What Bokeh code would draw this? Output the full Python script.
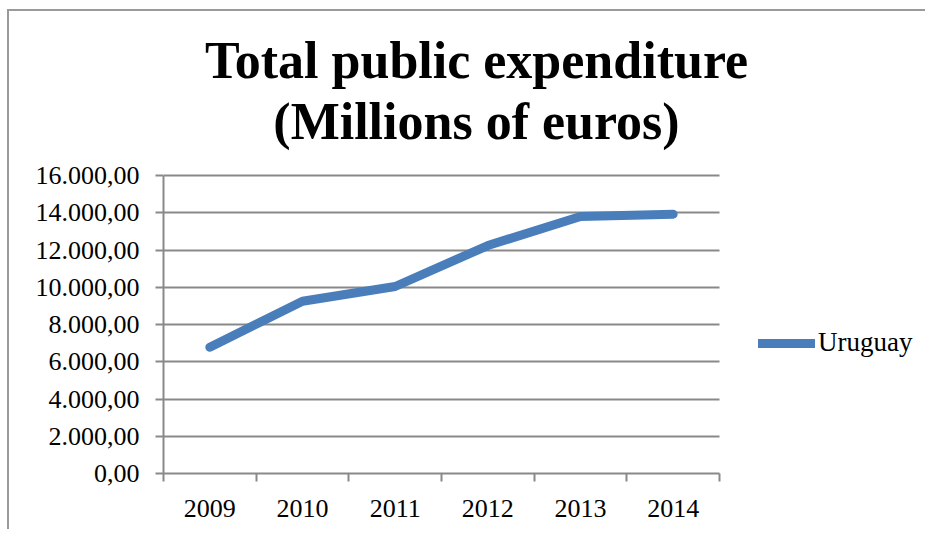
from bokeh.plotting import figure
from bokeh.models import FixedTicker, Label, Legend, LegendItem, Range1d
from bokeh.embed import file_html
from bokeh.resources import INLINE

# ---- data ----
years = [2009, 2010, 2011, 2012, 2013, 2014]
uruguay = [6780, 9250, 10040, 12240, 13800, 13920]
series_name = "Uruguay"
y_ticks = [0, 2000, 4000, 6000, 8000, 10000, 12000, 14000, 16000]
y_tick_labels = ["0,00", "2.000,00", "4.000,00", "6.000,00", "8.000,00",
                 "10.000,00", "12.000,00", "14.000,00", "16.000,00"]
title_lines = ["Total public expenditure", "(Millions of euros)"]

GRAY = "#898989"
BLUE = "#4A7EBB"
FONT = "Liberation Serif"

# layout (canvas px): plot area 154..710 x 164..462; frame extended to the
# top and right edges so that title and legend are drawn inside it
W, H = 918, 520
PL, PR, PT, PB = 154, 710, 164, 462
x0, x1 = years[0] - 0.5, years[-1] + 0.5
px_per_x = (PR - PL) / (x1 - x0)
y_top = y_ticks[-1] * PB / (PB - PT)

p = figure(width=W, height=H, output_backend="svg", toolbar_location=None,
           x_range=Range1d(x0, x1 + (W - PR) / px_per_x),
           y_range=Range1d(0, y_top),
           min_border_left=PL, min_border_right=0,
           min_border_top=0, min_border_bottom=H - PB)
p.styles = {"border-left": "2px solid #9a9a9a", "border-top": "2px solid #9a9a9a",
            "margin-left": "7px", "margin-top": "9px"}
p.outline_line_color = None
p.background_fill_color = "white"
p.border_fill_color = "white"

r = p.line(years, uruguay, line_width=9, line_color=BLUE,
           line_cap="round", line_join="round")

# y axis
ya = p.yaxis[0]
ya.bounds = (y_ticks[0], y_ticks[-1])
ya.ticker = FixedTicker(ticks=y_ticks)
ya.major_label_overrides = {t: l for t, l in zip(y_ticks, y_tick_labels)}
ya.axis_line_color = GRAY
ya.axis_line_width = 2
ya.major_tick_line_color = GRAY
ya.major_tick_line_width = 2
ya.major_tick_out = 8
ya.major_tick_in = 0
ya.minor_tick_line_color = None
ya.major_label_standoff = 16
ya.major_label_text_font = FONT
ya.major_label_text_font_size = "26px"
ya.major_label_text_color = "black"

# x axis: labels at year centres, ticks at boundaries
xa = p.xaxis[0]
xa.bounds = (x0, x1)
bounds = [y - 0.5 for y in years] + [x1]
xa.ticker = FixedTicker(ticks=years, minor_ticks=bounds)
xa.axis_line_color = GRAY
xa.axis_line_width = 2
xa.major_tick_line_color = None
xa.major_tick_out = 0
xa.major_tick_in = 0
xa.minor_tick_line_color = GRAY
xa.minor_tick_line_width = 2
xa.minor_tick_out = 8
xa.minor_tick_in = 0
xa.major_label_standoff = 18
xa.major_label_text_font = FONT
xa.major_label_text_font_size = "26px"
xa.major_label_text_color = "black"

p.xgrid.grid_line_color = None
p.ygrid.ticker = FixedTicker(ticks=y_ticks)
p.ygrid.bounds = (y_ticks[0], y_ticks[-1])
p.ygrid.cross_bounds = (x0, x1)
p.ygrid.grid_line_color = GRAY
p.ygrid.grid_line_width = 2

# two-line centred title (screen units relative to frame bottom-left)
for txt, base in zip(title_lines, [60, 121]):
    p.add_layout(Label(x=476 - 9 - PL, y=(PB + 11) - base, x_units="screen",
                       y_units="screen", text=txt, text_align="center",
                       text_baseline="alphabetic", text_font=FONT,
                       text_font_style="bold", text_font_size="52px",
                       text_color="black"))

legend = Legend(items=[LegendItem(label=series_name, renderers=[r])],
                location=(758 - 163, 473 - 358),
                glyph_width=57, glyph_height=30, label_height=30,
                label_standoff=3, padding=0, margin=0, spacing=0,
                border_line_color=None, background_fill_alpha=0,
                label_text_font=FONT, label_text_font_size="27px",
                label_text_color="black")
p.add_layout(legend, "center")

open("out.html", "w").write(file_html(p, INLINE))
